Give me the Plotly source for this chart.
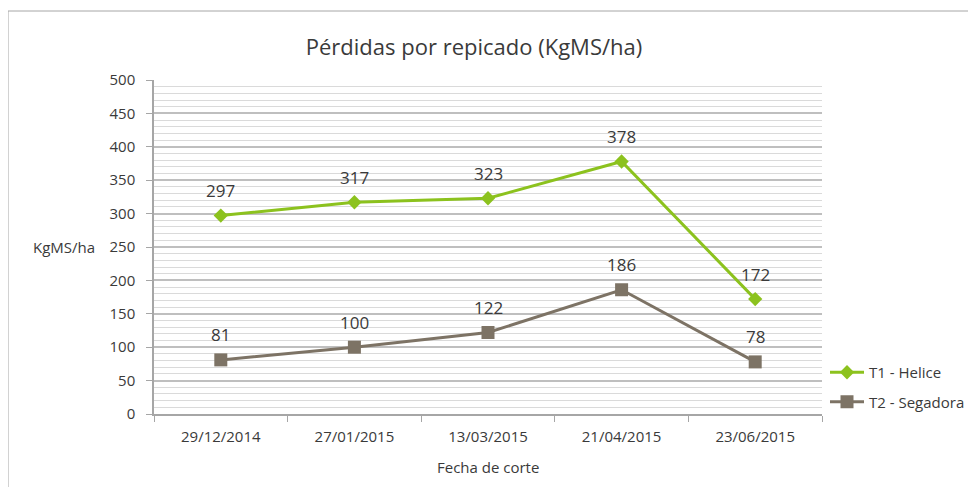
import plotly.graph_objects as go

categories = ["29/12/2014", "27/01/2015", "13/03/2015", "21/04/2015", "23/06/2015"]
t1_helice = [297, 317, 323, 378, 172]
t2_segadora = [81, 100, 122, 186, 78]
series_names = ["T1 - Helice", "T2 - Segadora"]
title_text = "Pérdidas por repicado (KgMS/ha)"
y_title = "KgMS/ha"
x_title = "Fecha de corte"

GREEN = "#8cc21e"
GRAY = "#7d7365"
FONT = "Open Sans"
TXT = "#3a3a3a"

OFF = 8  # browser body margin
W, H = 976 - OFF, 487 - OFF
L, T = 154 - OFF, 80 - OFF
R = W - (822 - OFF)
B = H - (414 - OFF)
pw, ph = W - L - R, H - T - B


def px_x(x):
    return (x - OFF - L) / pw


def px_y(y):
    return (H - B - (y - OFF)) / ph


fig = go.Figure()
fig.add_trace(go.Scatter(x=categories, y=t1_helice, name=series_names[0], mode="lines+markers",
                         legendgroup="a",
                         line=dict(color=GREEN, width=3), marker=dict(symbol="diamond", size=11, color=GREEN)))
fig.add_trace(go.Scatter(x=categories, y=t2_segadora, name=series_names[1], mode="lines+markers",
                         legendgroup="b",
                         line=dict(color=GRAY, width=3), marker=dict(symbol="square", size=13, color=GRAY)))

annotations = []
for series in (t1_helice, t2_segadora):
    for c, v in zip(categories, series):
        annotations.append(dict(x=c, y=v, text=str(v), showarrow=False, yshift=25,
                                font=dict(family=FONT, size=17, color=TXT)))
annotations.append(dict(x=px_x(31), y=px_y(247), xref="paper", yref="paper", xanchor="left",
                        yanchor="middle",
                        text=y_title, showarrow=False, font=dict(family=FONT, size=15, color=TXT)))
annotations.append(dict(x=0.5, y=px_y(467), xref="paper", yref="paper", yanchor="middle",
                        text=x_title, showarrow=False, font=dict(family=FONT, size=15, color=TXT)))

fig.update_layout(
    width=W, height=H, margin=dict(l=L, r=R, t=T, b=B, autoexpand=False),
    paper_bgcolor="white", plot_bgcolor="white",
    title=dict(text=title_text, x=(474 - OFF) / W, xanchor="center", y=1 - (47 - OFF) / H, yanchor="middle",
               font=dict(family=FONT, size=22, color=TXT)),
    font=dict(family=FONT, size=15, color=TXT),
    showlegend=True,
    legend=dict(x=px_x(825), y=px_y(356), xanchor="left", yanchor="top",
                font=dict(family=FONT, size=15, color=TXT), itemwidth=34, tracegroupgap=7,
                traceorder="grouped", bgcolor="rgba(0,0,0,0)"),
    annotations=annotations,
    shapes=[dict(type="rect", xref="paper", yref="paper", x0=px_x(8), x1=px_x(1100),
                 y0=px_y(600), y1=px_y(11), line=dict(color="#a6a6a6", width=1),
                 layer="below")],
)
fig.update_xaxes(type="category", range=[-0.5, 4.5], showgrid=False, showline=True, linecolor="#a6a6a6",
                 linewidth=1.5, ticks="outside", tickson="boundaries", ticklen=6, tickcolor="#a6a6a6",
                 ticklabelstandoff=8, automargin=False,
                 tickfont=dict(family=FONT, size=15, color=TXT), zeroline=False)
fig.update_yaxes(range=[0, 500], dtick=50, showgrid=True, gridcolor="#bfbfbf", gridwidth=1.5,
                 showline=True, linecolor="#a6a6a6", linewidth=1.5, ticks="outside", ticklen=6,
                 ticklabelstandoff=8, automargin=False,
                 tickcolor="#a6a6a6", tickfont=dict(family=FONT, size=15, color=TXT), zeroline=False,
                 minor=dict(dtick=10, showgrid=True, gridcolor="#dadada", gridwidth=1))

fig.write_html("out.html")
